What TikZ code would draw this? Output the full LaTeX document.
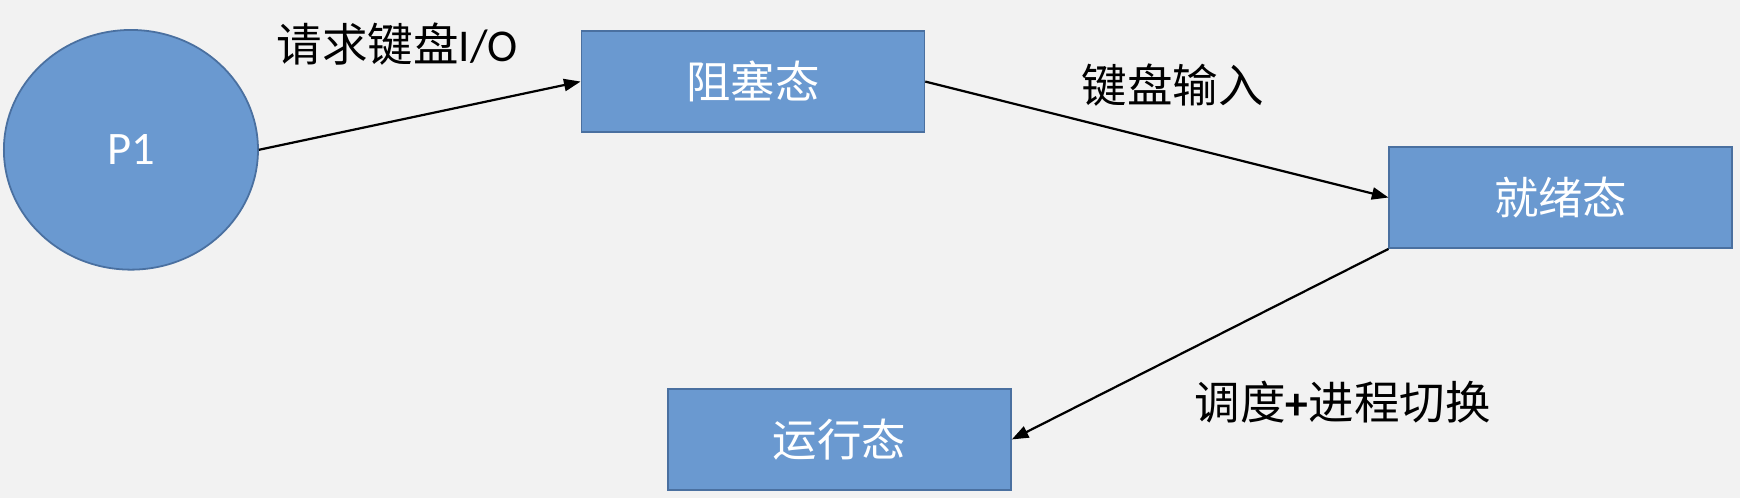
\documentclass[tikz,border=0pt]{standalone}
\usepackage{fontspec}
\setmainfont{Carlito}
\newfontfamily\cjk{Noto Sans CJK SC}
\usetikzlibrary{arrows.meta,shapes.geometric}
\definecolor{bg}{HTML}{F2F2F2}
\definecolor{boxfill}{HTML}{6A99D0}
\definecolor{boxline}{HTML}{4A70A0}
\tikzset{
  statebox/.style={draw=boxline, fill=boxfill, line width=1.6pt, minimum width=309pt, minimum height=91pt, inner sep=0pt, text=white, font=\fontsize{40}{46}\selectfont\cjk},
  procnode/.style={ellipse, draw=boxline, fill=boxfill, line width=1.6pt, minimum width=229pt, minimum height=216pt, inner sep=0pt, text=white, font=\fontsize{42}{48}\selectfont},
  lbl/.style={text=black, inner sep=0pt, font=\fontsize{41}{47}\selectfont},
  conn/.style={line width=2pt, -{Triangle[length=15pt,width=11pt]}}
}
\begin{document}
\begin{tikzpicture}[x=1pt,y=-1pt]
\fill[bg] (0,0) rectangle (1568,449);
\useasboundingbox (0,0) rectangle (1568,449);
\node[procnode] (p1) at (118,135) {P1};
\node[statebox] (zuse) at (678.5,73.5) {阻塞态};
\node[statebox] (jiuxu) at (1406.5,178) {就绪态};
\node[statebox] (yunxing) at (756.5,396) {运行态};
\draw[conn] (p1.east) -- (zuse.west);
\draw[conn] (zuse.east) -- (jiuxu.west);
\draw[conn] (jiuxu.south west) -- (yunxing.east);
\node[lbl] (l1) at (358,40) {{\cjk 请求键盘}I/O};
\node[lbl] (l2) at (1057,77) {\cjk 键盘输入};
\node[lbl] (l3) at (1210,362) {{\cjk 调度}\textbf{+}{\cjk 进程切换}};
\end{tikzpicture}
\end{document}
